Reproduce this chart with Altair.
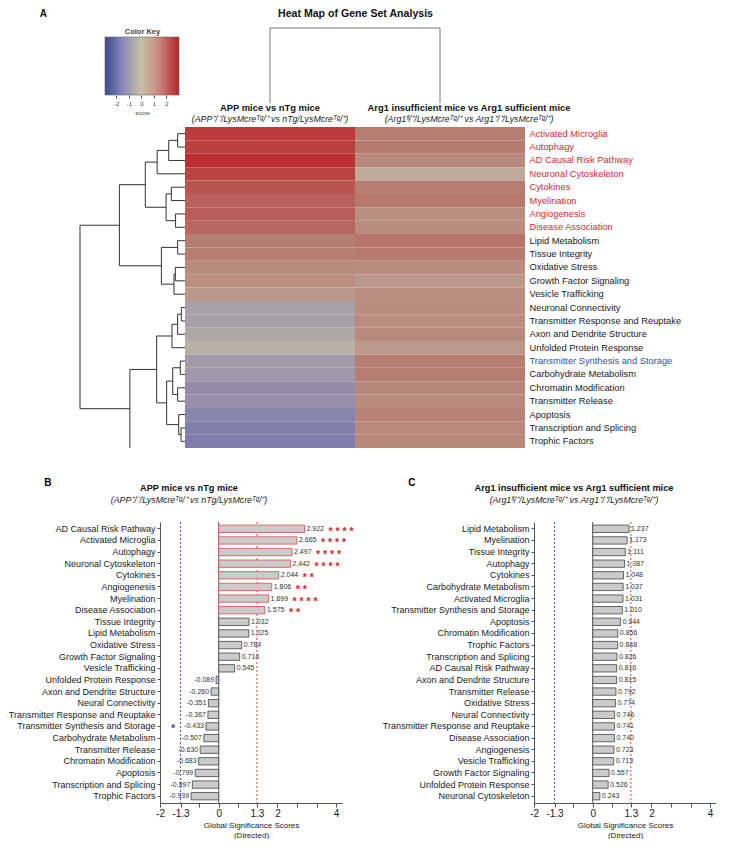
import json
import altair as alt
import pandas as pd

FONT = "Liberation Sans"
RED_TXT = "#d42a30"
BLUE_TXT = "#3c4ca6"
RED_BAR = "#e05a5a"

# ---------------- data ----------------
heat_rows = ["Activated Microglia", "Autophagy", "AD Causal Risk Pathway", "Neuronal Cytoskeleton",
             "Cytokines", "Myelination", "Angiogenesis", "Disease Association", "Lipid Metabolism",
             "Tissue Integrity", "Oxidative Stress", "Growth Factor Signaling", "Vesicle Trafficking",
             "Neuronal Connectivity", "Transmitter Response and Reuptake", "Axon and Dendrite Structure",
             "Unfolded Protein Response", "Transmitter Synthesis and Storage", "Carbohydrate Metabolism",
             "Chromatin Modification", "Transmitter Release", "Apoptosis", "Transcription and Splicing",
             "Trophic Factors"]
heat_red_rows = heat_rows[:8]
heat_blue_row = "Transmitter Synthesis and Storage"
heat_cols = ["APP", "Arg1"]
name_alias = {"Neuronal Connectivity": "Neural Connectivity"}

hdr_line1 = ["APP mice vs nTg mice", "Arg1 insufficient mice vs Arg1 sufficient mice"]
hdr_line2 = ["(APP\u207a/\u207b/LysMcre\u1d40\u1d4d/\u207a vs nTg/LysMcre\u1d40\u1d4d/\u207a)",
             "(Arg1\u1da0\u02e1/\u207a/LysMcre\u1d40\u1d4d/\u207a vs Arg1\u207a/\u207a/LysMcre\u1d40\u1d4d/\u207a)"]

b_names = ["AD Causal Risk Pathway", "Activated Microglia", "Autophagy", "Neuronal Cytoskeleton",
           "Cytokines", "Angiogenesis", "Myelination", "Disease Association", "Tissue Integrity",
           "Lipid Metabolism", "Oxidative Stress", "Growth Factor Signaling", "Vesicle Trafficking",
           "Unfolded Protein Response", "Axon and Dendrite Structure", "Neural Connectivity",
           "Transmitter Response and Reuptake", "Transmitter Synthesis and Storage",
           "Carbohydrate Metabolism", "Transmitter Release", "Chromatin Modification", "Apoptosis",
           "Transcription and Splicing", "Trophic Factors"]
b_vals = [2.922, 2.665, 2.497, 2.442, 2.044, 1.806, 1.699, 1.575, 1.032, 1.025, 0.784, 0.714, 0.545,
          -0.089, -0.260, -0.351, -0.367, -0.433, -0.507, -0.630, -0.683, -0.799, -0.897, -0.939]
b_sig = ["****", "****", "****", "****", "**", "**", "****", "**", "", "", "", "", "",
         "", "", "", "", "*", "", "", "", "", "", ""]

c_names = ["Lipid Metabolism", "Myelination", "Tissue Integrity", "Autophagy", "Cytokines",
           "Carbohydrate Metabolism", "Activated Microglia", "Transmitter Synthesis and Storage",
           "Apoptosis", "Chromatin Modification", "Trophic Factors", "Transcription and Splicing",
           "AD Causal Risk Pathway", "Axon and Dendrite Structure", "Transmitter Release",
           "Oxidative Stress", "Neural Connectivity", "Transmitter Response and Reuptake",
           "Disease Association", "Angiogenesis", "Vesicle Trafficking", "Growth Factor Signaling",
           "Unfolded Protein Response", "Neuronal Cytoskeleton"]
c_vals = [1.237, 1.173, 1.111, 1.087, 1.048, 1.037, 1.031, 1.010, 0.944, 0.856, 0.848, 0.826,
          0.816, 0.815, 0.792, 0.774, 0.746, 0.741, 0.740, 0.723, 0.713, 0.557, 0.526, 0.243]

b_title = "APP mice vs nTg mice"
c_title = "Arg1 insufficient mice vs Arg1 sufficient mice"

x_ticks = [-2, -1.3, 0, 1.3, 2, 4]
x_minor = [-0.667, 0.667, 2.667, 3.333]
thresholds = [-1.3, 1.3]
threshold_colors = ["#4a5cc4", "#e04848"]

# row dendrogram merges: (child, child, height); int = heatmap row, "nK" = K-th merge,
# "edge" = branch running off the cropped bottom edge of the heat map
row_merges = [
    (0, 1, 0.70), ("n0", 2, 1.55), ("n1", 3, 2.65),
    (4, 5, 1.30), (6, 7, 0.90), ("n3", "n4", 1.80), ("n2", "n5", 3.78),
    (8, 9, 0.70), (10, 11, 0.92), ("n8", 12, 1.05), ("n7", "n9", 2.25),
    ("n6", "n10", 6.25),
    (13, 14, 0.35), ("n12", 15, 0.70), ("n13", 16, 1.24),
    (17, 18, 0.45), (19, 20, 0.70), ("n15", "n16", 1.17),
    (22, 23, 0.38), (21, "n18", 0.60), ("n17", "n19", 1.75),
    ("n14", "n20", 2.70),
    ("n21", "edge", 5.25),
    ("n11", "n22", 10.0),
]
col_merges = [(0, 1, 1.0)]

key_ticks = [-2, -1, 0, 1, 2]
key_span = [-2.9, 3.0]
key_offsets = [0.0, 0.22, 0.49, 0.72, 1.0]
key_colors = ["#3b4b8f", "#8385b8", "#c8c0a8", "#c98a82", "#b3242a"]

heat_dom = [-1, 0, 1, 3]
heat_rng = ["#7d78ab", "#c0b8a5", "#b67f74", "#bc2c2f"]

# ---------------- layout (pixel ranges; origin aligned with the panel-B plot) ----------------
A_W = 365
A1_H = 58             # upper view: height of the colour key box
A2_H = 349            # lower view: column headers + heat map
HEAT_X = [25, 365]
HEAT_Y = [28, 349]
DEND_X = [25, -80]
CDEND_Y = [66, -9]
HDR_Y = [8.5, 19.5]
KEY_X = [-55, 19]
KEY_Y = [58, 0]


def dendro_segments(merges, n_leaves):
    pos, hgt, segs = {}, {}, []

    def node(k):
        if k == "edge":
            return float(n_leaves), None
        if isinstance(k, int):
            return k + 0.5, 0.0
        return pos[k], hgt[k]

    for i, (a, b, h) in enumerate(merges):
        pa, ha = node(a)
        pb, hb = node(b)
        if ha is not None:
            segs.append({"h1": ha, "h2": h, "p1": pa, "p2": pa})
        if hb is not None:
            segs.append({"h1": hb, "h2": h, "p1": pb, "p2": pb})
        segs.append({"h1": h, "h2": h, "p1": pa, "p2": pb})
        pos[f"n{i}"] = (pa + pb) / 2
        hgt[f"n{i}"] = h
    return pd.DataFrame(segs)


NOAX = dict(labels=False, ticks=False, domain=False, grid=False)

# ---------------- panel A, upper view: column dendrogram + colour key ----------------
col_seg = dendro_segments(col_merges, 2)
coldendro = alt.Chart(col_seg).mark_rule(color="#777", strokeWidth=1).encode(
    x=alt.X("p1:Q", scale=alt.Scale(domain=[0, 2], range=HEAT_X, nice=False, zero=False),
            axis=alt.Axis(orient="top", title="Heat Map of Gene Set Analysis", titlePadding=18.5,
                          titleFontSize=10.6, titleFontWeight="bold", titleColor="#111", **NOAX)),
    x2="p2",
    y=alt.Y("h1:Q", scale=alt.Scale(domain=[0, 1], range=CDEND_Y, nice=False, zero=False), axis=None),
    y2="h2",
)

grad = alt.LinearGradient(gradient="linear", x1=0, x2=1, y1=0, y2=0,
                          stops=[alt.GradientStop(offset=o, color=c) for o, c in zip(key_offsets, key_colors)])
key_df = pd.DataFrame({"lo": [key_span[0]], "hi": [key_span[1]], "b": [0], "t": [1]})
key_x_scale = alt.Scale(domain=key_span, range=KEY_X, nice=False, zero=False)
key_y = alt.Y("b:Q", scale=alt.Scale(domain=[0, 1], range=KEY_Y, nice=False, zero=False), axis=None)
key_fill = alt.Chart(key_df).mark_rect(fill=grad).encode(
    x=alt.X("lo:Q", scale=key_x_scale,
            axis=alt.Axis(orient="bottom", values=key_ticks, format="~g",
                          labelExpr="replace(datum.label, '\u2212', '-')",
                          domain=False, tickSize=3, tickColor="#555", labelFontSize=6,
                          labelColor="#444", labelPadding=2, title="score", titleFontSize=6,
                          titleFontWeight="normal", titleColor="#444", titlePadding=3, grid=False)),
    x2="hi", y=key_y, y2="t",
)
key_frame = alt.Chart(key_df).mark_rect(fillOpacity=0, stroke="#666", strokeWidth=0.6).encode(
    x=alt.X("lo:Q", scale=key_x_scale,
            axis=alt.Axis(orient="top", title="Color Key", titlePadding=1.5, titleFontSize=7.5,
                          titleFontWeight="bold", titleColor="#444", **NOAX)),
    x2="hi", y=key_y, y2="t",
)

panel_a1 = alt.layer(coldendro, key_fill, key_frame).resolve_scale(
    x="independent", y="independent").resolve_axis(x="independent", y="independent").properties(
    width=A_W, height=A1_H,
    title=alt.TitleParams("A", anchor="start", fontSize=10, fontWeight="bold", color="#111",
                          dx=-65, offset=-10))

# ---------------- panel A, lower view: headers, heat map, row dendrogram ----------------
hdr_records = []
for c, l1, l2 in zip(heat_cols, hdr_line1, hdr_line2):
    hdr_records.append({"col": c, "line": 1, "text": l1})
    hdr_records.append({"col": c, "line": 2, "text": l2})
hdr_df = pd.DataFrame(hdr_records)
hx = alt.X("col:N", scale=alt.Scale(type="point", domain=heat_cols, range=HEAT_X, padding=0.5), axis=None)
hy = alt.Y("line:Q", scale=alt.Scale(domain=[1, 2], range=HDR_Y, nice=False, zero=False), axis=None)


def hdr_layer(col, line, **kw):
    return alt.Chart(hdr_df).transform_filter(
        (alt.datum.col == col) & (alt.datum.line == line)).mark_text(**kw).encode(
        x=hx, y=hy, text="text:N")


hdr_layers = [
    hdr_layer(heat_cols[0], 1, fontSize=9.4, fontWeight="bold", color="#111"),
    hdr_layer(heat_cols[0], 2, fontSize=8.8, fontStyle="italic", color="#222"),
    hdr_layer(heat_cols[1], 1, fontSize=9.4, fontWeight="bold", color="#111", dx=29),
    hdr_layer(heat_cols[1], 2, fontSize=8.8, fontStyle="italic", color="#222", dx=29),
]

b_lookup = dict(zip(b_names, b_vals))
c_lookup = dict(zip(c_names, c_vals))
heat_records = []
for r in heat_rows:
    key = name_alias.get(r, r)
    heat_records.append({"name": r, "col": heat_cols[0], "value": b_lookup[key]})
    heat_records.append({"name": r, "col": heat_cols[1], "value": c_lookup[key]})
heat_df = pd.DataFrame(heat_records)

label_color = {
    "condition": [
        {"test": f"indexof({json.dumps(heat_red_rows)}, datum.value) >= 0", "value": RED_TXT},
        {"test": f"datum.value === '{heat_blue_row}'", "value": BLUE_TXT},
    ],
    "value": "#1a1a1a",
}
heat = alt.Chart(heat_df).mark_rect().encode(
    x=alt.X("col:N", sort=heat_cols,
            scale=alt.Scale(type="band", domain=heat_cols, range=HEAT_X, paddingInner=0, paddingOuter=0),
            axis=None),
    y=alt.Y("name:N", sort=heat_rows,
            scale=alt.Scale(type="band", domain=heat_rows, range=HEAT_Y, paddingInner=0, paddingOuter=0),
            axis=alt.Axis(orient="right", title=None, ticks=False, domain=False, labelPadding=4,
                          labelFontSize=9.3, labelLimit=400, labelColor=label_color, grid=False)),
    color=alt.Color("value:Q", scale=alt.Scale(domain=heat_dom, range=heat_rng, interpolate="rgb"),
                    legend=None),
)

row_seg = dendro_segments(row_merges, len(heat_rows))
rowdendro = alt.Chart(row_seg).mark_rule(color="#333", strokeWidth=1).encode(
    x=alt.X("h1:Q", scale=alt.Scale(domain=[0, 10], range=DEND_X, nice=False, zero=False), axis=None),
    x2="h2",
    y=alt.Y("p1:Q", scale=alt.Scale(domain=[0, 24], range=HEAT_Y, nice=False, zero=False), axis=None),
    y2="p2",
)

panel_a2 = alt.layer(*hdr_layers, heat, rowdendro).resolve_scale(
    x="independent", y="independent", color="independent").resolve_axis(
    x="independent", y="independent").properties(width=A_W, height=A2_H)

panel_a = alt.vconcat(panel_a1, panel_a2, spacing=4, bounds="flush")


# ---------------- panels B and C ----------------
def bar_panel(names, vals, sig, red_n, title, subtitle, title_dx, letter, letter_dx):
    df = pd.DataFrame({
        "name": names, "value": vals,
        "red": [i < red_n for i in range(len(names))],
        "sig": [" ".join(s) for s in sig],
    })
    x = alt.X("value:Q", scale=alt.Scale(domain=[-2, 4.2], nice=False, zero=False),
              axis=alt.Axis(values=x_ticks + x_minor,
                            labelExpr=f"indexof({json.dumps(x_ticks)}, datum.value) >= 0 ? replace(format(datum.value, '~g'), '\u2212', '-') : ''",
                            labelFontSize=10, labelColor="#1a1a1a", tickSize=4, labelPadding=1,
                            domainColor="#555", tickColor="#555", labelFlush=False,
                            title=["Global Significance Scores", "(Directed)"], titleFontSize=8,
                            titleFontWeight="normal", titleColor="#222", titlePadding=3,
                            titleLineHeight=10))
    y = alt.Y("name:N", sort=names, scale=alt.Scale(paddingInner=0.37, paddingOuter=0.27),
              axis=alt.Axis(title=None, labelFontSize=9, labelColor="#1a1a1a", tickSize=3,
                            tickColor="#555", domainColor="#555", labelPadding=2, labelLimit=400))
    base = alt.Chart(df).transform_calculate(
        lbl="replace(format(datum.value, '.3f'), '\u2212', '-')")
    bars = base.mark_bar(fill="#cbcbcb", strokeWidth=0.9).encode(
        x=x, x2=alt.datum(0), y=y,
        stroke=alt.condition("datum.red", alt.value(RED_BAR), alt.value("#555")))
    thr_df = pd.DataFrame({"value": thresholds, "c": threshold_colors})
    thr = alt.Chart(thr_df).mark_rule(strokeDash=[2, 2], strokeWidth=1).encode(
        x=x, color=alt.Color("c:N", scale=None))
    zero = alt.Chart(pd.DataFrame({"value": [0]})).mark_rule(color="#555", strokeWidth=1).encode(x=x)
    pos = base.transform_filter("datum.value > 0").mark_text(
        align="left", dx=2, fontSize=7, color="#333").encode(x=x, y=y, text="lbl:N")
    neg = base.transform_filter("datum.value < 0").mark_text(
        align="right", dx=-2, fontSize=7, color="#333").encode(x=x, y=y, text="lbl:N")
    spos = base.transform_filter("datum.value > 0 && datum.sig != ''").mark_text(
        align="left", dx=24, dy=3, fontSize=10.5, fontWeight="bold", color="#d8242c").encode(
        x=x, y=y, text="sig:N")
    sneg = base.transform_filter("datum.value < 0 && datum.sig != ''").mark_text(
        align="center", dx=-33, dy=3, fontSize=10.5, fontWeight="bold", color=BLUE_TXT).encode(
        x=x, y=y, text="sig:N")
    panel = alt.layer(thr, zero, bars, pos, neg, spos, sneg).properties(
        width=182, height=281,
        title=alt.TitleParams(title, subtitle=subtitle, fontSize=9.2, fontWeight="bold",
                              subtitleFontSize=8.8, subtitleFontStyle="italic", subtitlePadding=2.5,
                              offset=17, dx=title_dx, color="#111", subtitleColor="#222"))
    return alt.vconcat(panel).properties(
        title=alt.TitleParams(letter, anchor="start", fontSize=10, fontWeight="bold", offset=-4,
                              dx=letter_dx))


panel_b = bar_panel(b_names, b_vals, b_sig, 8, b_title, hdr_line2[0], -62, "B", 36)
panel_c = bar_panel(c_names, c_vals, [""] * len(c_names), 0, c_title, hdr_line2[1], -51, "C", 26)
bottom = alt.hconcat(panel_b, panel_c, spacing=28)

chart = alt.vconcat(panel_a, bottom, spacing=29).properties(padding=0).configure(
    font=FONT).configure_view(stroke=None).configure_axis(grid=False)

chart.save("out.html", embed_options={"renderer": "svg", "actions": False})
